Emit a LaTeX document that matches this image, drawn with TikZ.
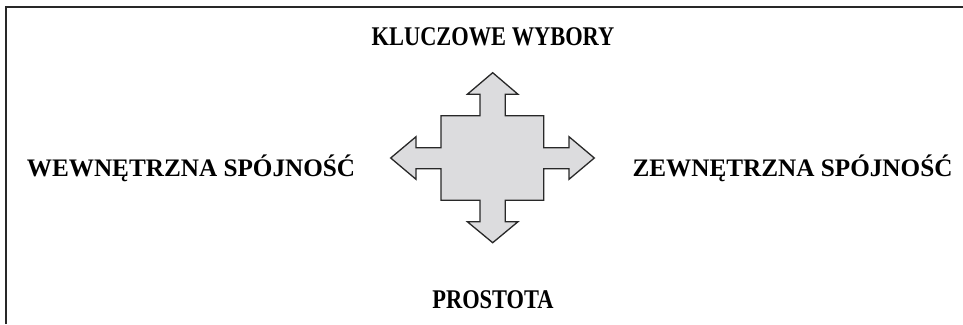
\documentclass[tikz,border=0pt]{standalone}
\usepackage{fontspec}
\setmainfont{Liberation Serif}
\definecolor{crossfill}{RGB}{220,220,222}
\definecolor{inkgray}{RGB}{40,40,40}
\begin{document}
\begin{tikzpicture}[x=1pt,y=-1pt,
  label/.style={font=\fontsize{25.2}{28}\selectfont\bfseries, inner sep=0pt, anchor=base},
  tall/.style={font=\fontsize{27}{30}\selectfont\bfseries, inner sep=0pt, anchor=base, xscale=0.83},
  frameline/.style={draw=inkgray, line width=1.8pt},
  cross/.style={draw=inkgray, line width=1.3pt, fill=crossfill, line join=miter}]
\useasboundingbox (0,0) rectangle (963,324);
% open frame: left side and top only
\draw[frameline] (6,324) -- (6,7) -- (963,7);
% four-way arrow in the middle
\draw[cross]
  (492.7,72.7) -- (518,94.3) -- (505.3,94.3) -- (505.3,115.7) -- (543.7,115.7)
  -- (543.7,147.7) -- (569,147.7) -- (569,136.7) -- (594.3,158) -- (569,179.3)
  -- (569,168.7) -- (543.7,168.7) -- (543.7,200.3) -- (505.3,200.3)
  -- (505.3,221.7) -- (518,221.7) -- (492.7,242.7) -- (467.3,221.7)
  -- (480,221.7) -- (480,200.3) -- (441,200.3) -- (441,168.7) -- (416,168.7)
  -- (416,179.3) -- (390.7,158) -- (416,136.7) -- (416,147.7) -- (441,147.7)
  -- (441,115.7) -- (480,115.7) -- (480,94.3) -- (467.3,94.3) -- cycle;
\node[tall] (top) at (493,45.5) {KLUCZOWE WYBORY};
\node[tall] (bottom) at (493,308.5) {PROSTOTA};
\node[label] (left) at (191,176) {WEWNĘTRZNA SPÓJNOŚĆ};
\node[label] (right) at (792.5,176) {ZEWNĘTRZNA SPÓJNOŚĆ};
\end{tikzpicture}
\end{document}
